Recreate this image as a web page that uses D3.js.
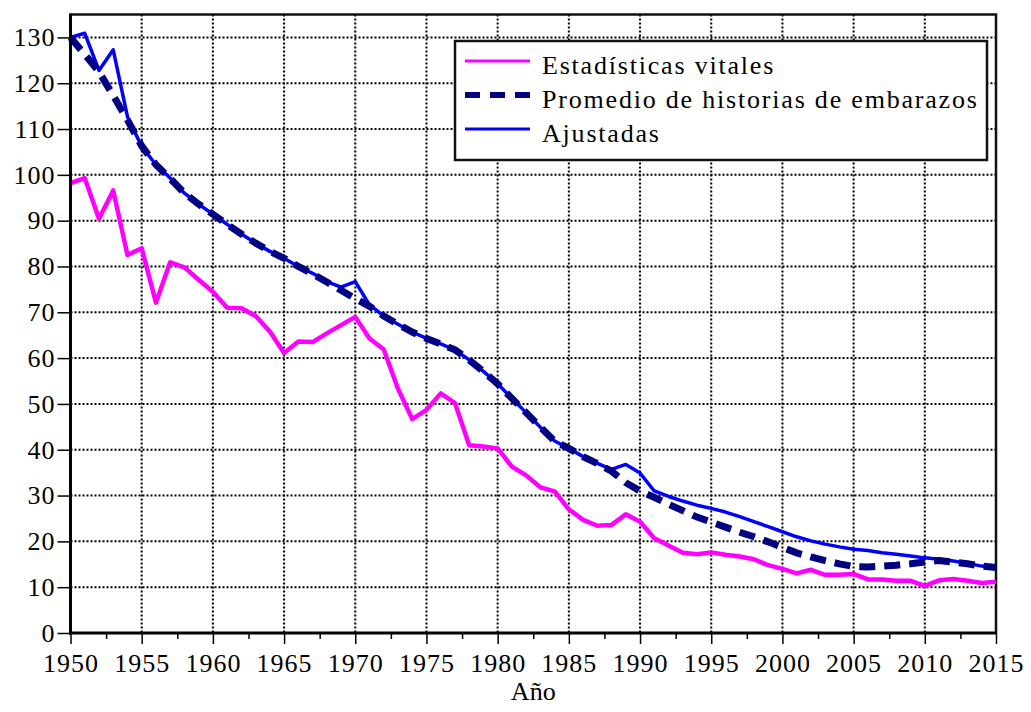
<!DOCTYPE html>
<html><head><meta charset="utf-8"><script src="https://cdn.jsdelivr.net/npm/d3@7"></script></head>
<body style="margin:0">
<svg id="chart" width="1031" height="712" font-family="Liberation Serif"></svg>
<script>
const years = d3.range(1950, 2016);

const seriesNames = ["Estadísticas vitales", "Promedio de historias de embarazos", "Ajustadas"];

const vitales = [
  98.2, 99.3, 90.4, 96.6, 82.5, 84.0, 72.1, 80.9, 79.8, 77.1,
  74.5, 71.0, 70.9, 69.2, 65.8, 61.1, 63.6, 63.5, 65.4, 67.2,
  69.0, 64.3, 61.9, 53.3, 46.7, 48.7, 52.3, 50.2, 41.0, 40.7,
  40.3, 36.3, 34.4, 31.8, 30.9, 27.0, 24.7, 23.4, 23.6, 25.9,
  24.3, 20.7, 19.1, 17.5, 17.2, 17.6, 17.1, 16.7, 16.1, 14.8,
  14.0, 13.0, 13.8, 12.7, 12.7, 12.9, 11.7, 11.7, 11.4, 11.4,
  10.3, 11.5, 11.8, 11.4, 10.9, 11.2
];

const promedio = [
  130.0, 126.3, 122.5, 117.3, 112.0, 106.3, 102.2, 99.2, 96.0, 93.6,
  91.4, 89.2, 87.1, 85.1, 83.3, 81.8, 80.0, 78.4, 76.6, 74.8,
  73.0, 71.3, 69.2, 67.4, 65.7, 64.3, 63.1, 61.8, 59.6, 57.1,
  54.4, 51.2, 48.1, 44.9, 41.9, 40.3, 38.5, 37.0, 35.3, 32.8,
  31.0, 29.6, 28.1, 26.7, 25.3, 24.2, 23.1, 22.0, 21.0, 19.9,
  18.7, 17.5, 16.6, 15.8, 15.1, 14.5, 14.4, 14.6, 14.8, 15.1,
  15.5, 15.8, 15.5, 15.1, 14.6, 14.3
];

const ajustadas = [
  130.0, 130.9, 122.8, 127.3, 112.7, 106.2, 102.2, 99.3, 96.0, 93.6,
  91.4, 89.2, 87.1, 85.1, 83.3, 81.8, 80.0, 78.5, 76.7, 75.5,
  76.7, 71.6, 69.2, 67.4, 65.7, 64.3, 63.1, 61.8, 59.6, 57.1,
  54.4, 51.2, 48.1, 44.9, 41.9, 40.3, 38.5, 37.0, 35.7, 36.8,
  34.9, 31.0, 29.8, 28.8, 27.9, 27.2, 26.4, 25.4, 24.3, 23.2,
  22.1, 21.0, 20.1, 19.4, 18.8, 18.3, 18.0, 17.5, 17.2, 16.8,
  16.4, 16.1, 15.7, 15.2, 14.6, 14.3
];

const yTicks = [0, 10, 20, 30, 40, 50, 60, 70, 80, 90, 100, 110, 120, 130];
const xTicks = [1950, 1955, 1960, 1965, 1970, 1975, 1980, 1985, 1990, 1995, 2000, 2005, 2010, 2015];
const xMinorTicks = [1952.5, 1957.5, 1962.5, 1967.5, 1972.5, 1977.5, 1982.5, 1987.5, 1992.5, 1997.5, 2002.5, 2007.5, 2012.5];
const xTitle = "Año";

const pLeft = 70.5, pRight = 996, pTop = 14.5, pBottom = 633;
const FONT = "Liberation Serif";
const fontSize = 26;

const svg = d3.select("#chart");
const xScale = d3.scaleLinear().domain([1950, 2015]).range([pLeft, pRight]);
const yScale = d3.scaleLinear().domain([0, 135]).range([pBottom, pTop]);

function styleText(sel, spacing) {
  sel.attr("font-family", FONT).attr("font-size", fontSize)
    .style("font-family", FONT).style("font-size", fontSize + "px")
    .attr("fill", "#000");
  if (spacing) sel.style("letter-spacing", spacing);
  return sel;
}

// grid
const grid = svg.append("g");
grid.selectAll("line.h").data(yTicks.filter(d => d > 0)).join("line")
  .attr("x1", pLeft).attr("x2", pRight)
  .attr("y1", d => yScale(d)).attr("y2", d => yScale(d))
  .attr("stroke", "#000").attr("stroke-width", 2).attr("stroke-dasharray", "2,2");
grid.selectAll("line.v").data(xTicks.filter(d => d > 1950 && d < 2015)).join("line")
  .attr("y1", pTop).attr("y2", pBottom)
  .attr("x1", d => xScale(d)).attr("x2", d => xScale(d))
  .attr("stroke", "#000").attr("stroke-width", 2).attr("stroke-dasharray", "2,2");

// frame top/right
svg.append("path")
  .attr("d", `M${pLeft},${pTop}H${pRight}V${pBottom}`)
  .attr("fill", "none").attr("stroke", "#111").attr("stroke-width", 2.5);

// lines
const lineGen = d3.line().x((d, i) => xScale(years[i])).y(d => yScale(d));
svg.append("path").datum(vitales).attr("d", lineGen)
  .attr("fill", "none").attr("stroke", "#ff00ff").attr("stroke-width", 4.5).attr("stroke-linejoin", "round");
svg.append("path").datum(ajustadas).attr("d", lineGen)
  .attr("fill", "none").attr("stroke", "#0000ff").attr("stroke-width", 3.5).attr("stroke-linejoin", "round");
svg.append("path").datum(promedio).attr("d", lineGen)
  .attr("fill", "none").attr("stroke", "#000080").attr("stroke-width", 7).attr("stroke-dasharray", "16,9");

// axes
const yAxisG = svg.append("g").attr("transform", `translate(${pLeft},0)`)
  .call(d3.axisLeft(yScale).tickValues(yTicks).tickSize(13).tickPadding(2).tickFormat(d3.format("d")));
const xAxisG = svg.append("g").attr("transform", `translate(0,${pBottom})`)
  .call(d3.axisBottom(xScale).tickValues(xTicks).tickSize(11).tickPadding(10).tickFormat(d3.format("d")));
const xMinorG = svg.append("g").attr("transform", `translate(0,${pBottom})`)
  .call(d3.axisBottom(xScale).tickValues(xMinorTicks).tickSize(6).tickFormat(""));
[yAxisG, xAxisG, xMinorG].forEach(g => {
  g.attr("font-family", FONT).attr("font-size", fontSize);
  g.select(".domain").remove();
  g.selectAll(".tick line").attr("stroke", "#000").attr("stroke-width", 1.5);
  styleText(g.selectAll("text"), "1px");
});
// axis lines
svg.append("line").attr("x1", pLeft).attr("x2", pLeft).attr("y1", pTop - 1).attr("y2", pBottom + 1.5)
  .attr("stroke", "#000").attr("stroke-width", 3);
svg.append("line").attr("x1", pLeft - 1.5).attr("x2", pRight + 1).attr("y1", pBottom).attr("y2", pBottom)
  .attr("stroke", "#000").attr("stroke-width", 3);

styleText(svg.append("text").attr("x", (pLeft + pRight) / 2).attr("y", 700)
  .attr("text-anchor", "middle"), null).text(xTitle);

// legend
const lg = svg.append("g");
lg.append("rect").attr("x", 455).attr("y", 41).attr("width", 532).attr("height", 119)
  .attr("fill", "#fff").attr("stroke", "#111").attr("stroke-width", 2.5);
const legendItems = [
  { name: seriesNames[0], color: "#ff00ff", w: 3, dash: null },
  { name: seriesNames[1], color: "#000080", w: 6, dash: "15,10" },
  { name: seriesNames[2], color: "#0000ff", w: 3, dash: null }
];
const rowY = d3.scalePoint().domain(legendItems.map(d => d.name)).range([61, 129]);
legendItems.forEach(it => {
  lg.append("line").attr("x1", 465).attr("x2", 530)
    .attr("y1", rowY(it.name)).attr("y2", rowY(it.name))
    .attr("stroke", it.color).attr("stroke-width", it.w)
    .attr("stroke-dasharray", it.dash);
  styleText(lg.append("text").attr("x", 542).attr("y", rowY(it.name) + 13), "1.8px").text(it.name);
});
</script>
</body>
</html>
